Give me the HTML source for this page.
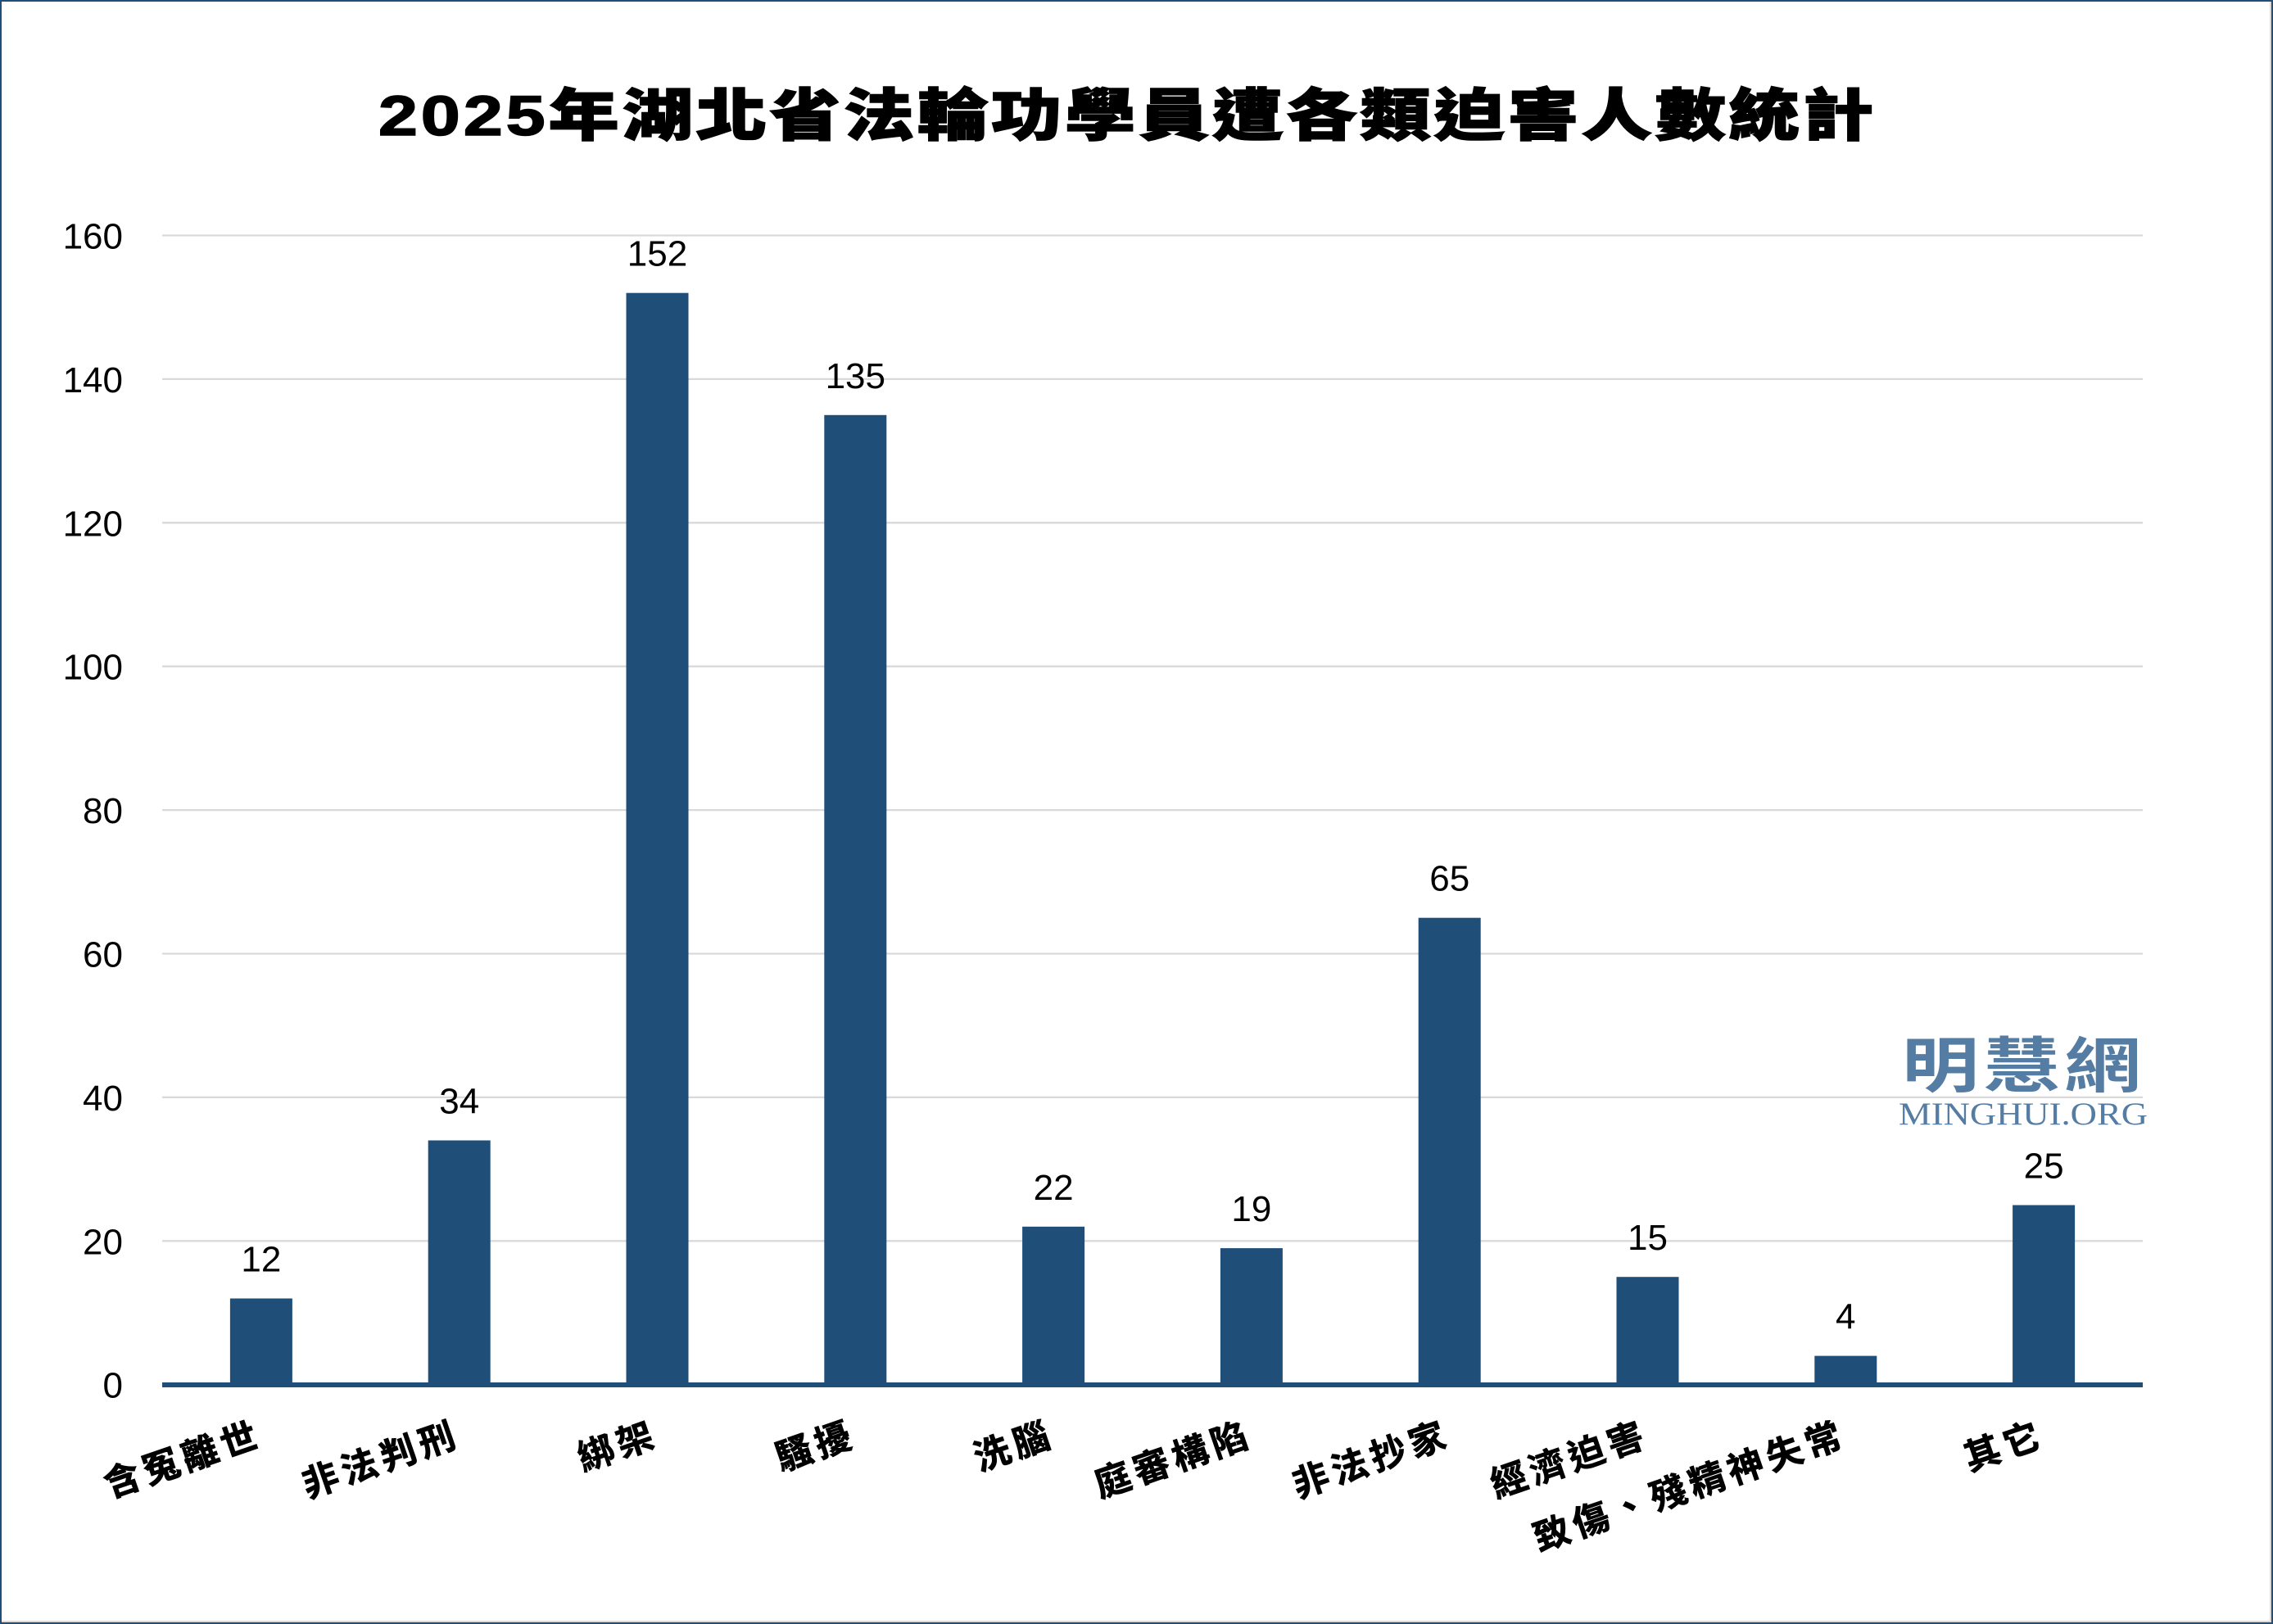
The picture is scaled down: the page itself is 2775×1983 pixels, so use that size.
<!DOCTYPE html>
<html>
<head>
<meta charset="utf-8">
<style>
  html, body { margin:0; padding:0; background:#fff; }
  svg { display:block; }
  .cjk { font-family: "Liberation Sans", "Noto Sans CJK TC", "Noto Sans CJK SC", sans-serif; }
  .num { font-family: "Liberation Sans", sans-serif; font-size:44px; fill:#000; }
</style>
</head>
<body>
<svg width="2775" height="1983" viewBox="0 0 2775 1983" xmlns="http://www.w3.org/2000/svg">
  <rect x="0" y="0" width="2775" height="1983" fill="#ffffff"/>
  <!-- shadow lines right & bottom -->
  <rect x="2771" y="2" width="2" height="1979" fill="#d9d9d9"/>
  <rect x="2" y="1979" width="2771" height="2" fill="#d9d9d9"/>
  <!-- outer border -->
  <rect x="1" y="1" width="2773" height="1981" fill="none" stroke="#1f4e79" stroke-width="2"/>

  <!-- Title -->
  <text class="cjk" transform="translate(0,165) scale(1,0.8)" x="462" y="0" textLength="1825" lengthAdjust="spacing"
        font-size="86" font-weight="900" fill="#000" stroke="#000" stroke-width="2">2025年湖北省法輪功學員遭各類迫害人數統計</text>

  <!-- Gridlines -->
  <g stroke="#d9d9d9" stroke-width="2.3">
    <line x1="198" y1="287.5" x2="2616" y2="287.5"/>
    <line x1="198" y1="462.9" x2="2616" y2="462.9"/>
    <line x1="198" y1="638.3" x2="2616" y2="638.3"/>
    <line x1="198" y1="813.7" x2="2616" y2="813.7"/>
    <line x1="198" y1="989.1" x2="2616" y2="989.1"/>
    <line x1="198" y1="1164.5" x2="2616" y2="1164.5"/>
    <line x1="198" y1="1339.9" x2="2616" y2="1339.9"/>
    <line x1="198" y1="1515.3" x2="2616" y2="1515.3"/>
  </g>

  <!-- Y tick labels -->
  <g class="num" text-anchor="end">
    <text x="150" y="303.5">160</text>
    <text x="150" y="478.9">140</text>
    <text x="150" y="654.3">120</text>
    <text x="150" y="829.7">100</text>
    <text x="150" y="1005.1">80</text>
    <text x="150" y="1180.5">60</text>
    <text x="150" y="1355.9">40</text>
    <text x="150" y="1531.3">20</text>
    <text x="150" y="1706.7">0</text>
  </g>

  <!-- Watermark -->
  <text class="cjk" transform="translate(0,1327) scale(1,0.78)" x="2322" y="0" textLength="292" lengthAdjust="spacing" font-size="94" font-weight="700" fill="#557ca3">明慧網</text>
  <text x="2318" y="1373" textLength="304" lengthAdjust="spacingAndGlyphs" font-family="'Liberation Serif', serif" font-size="39" fill="#557ca3">MINGHUI.ORG</text>

  <!-- Bars -->
  <g fill="#1f4e79">
    <rect x="280.9" y="1585.5" width="76" height="106"/>
    <rect x="522.7" y="1392.5" width="76" height="299"/>
    <rect x="764.5" y="357.7" width="76" height="1334"/>
    <rect x="1006.3" y="506.8" width="76" height="1185"/>
    <rect x="1248.1" y="1497.8" width="76" height="194"/>
    <rect x="1489.9" y="1524.1" width="76" height="167"/>
    <rect x="1731.7" y="1120.7" width="76" height="571"/>
    <rect x="1973.5" y="1559.2" width="76" height="132"/>
    <rect x="2215.3" y="1655.6" width="76" height="36"/>
    <rect x="2457.1" y="1471.5" width="76" height="220"/>
  </g>

  <!-- Axis line -->
  <rect x="198" y="1688" width="2418" height="6" fill="#1f4e79"/>

  <!-- Data labels -->
  <g class="num" text-anchor="middle">
    <text x="318.9" y="1552.5">12</text>
    <text x="560.7" y="1359.5">34</text>
    <text x="802.5" y="324.7">152</text>
    <text x="1044.3" y="473.8">135</text>
    <text x="1286.1" y="1464.8">22</text>
    <text x="1527.9" y="1491.1">19</text>
    <text x="1769.7" y="1087.7">65</text>
    <text x="2011.5" y="1526.2">15</text>
    <text x="2253.3" y="1622.6">4</text>
    <text x="2495.1" y="1438.5">25</text>
  </g>

  <!-- Category labels -->
  <g class="cjk" font-size="44" font-weight="700" fill="#000" stroke="#000" stroke-width="0.8" text-anchor="end" letter-spacing="6">
    <text transform="translate(322.9,1764) rotate(-19)">含冤離世</text>
    <text transform="translate(564.7,1764) rotate(-19)">非法判刑</text>
    <text transform="translate(806.5,1764) rotate(-19)">綁架</text>
    <text transform="translate(1048.3,1764) rotate(-19)">騷擾</text>
    <text transform="translate(1290.1,1764) rotate(-19)">洗腦</text>
    <text transform="translate(1531.9,1764) rotate(-19)">庭審構陷</text>
    <text transform="translate(1773.7,1764) rotate(-19)">非法抄家</text>
    <text transform="translate(2015.5,1764) rotate(-19)">經濟迫害</text>
    <text transform="translate(2257.3,1764) rotate(-19)">致傷、殘精神失常</text>
    <text transform="translate(2499.1,1764) rotate(-19)">其它</text>
  </g>
</svg>
</body>
</html>
